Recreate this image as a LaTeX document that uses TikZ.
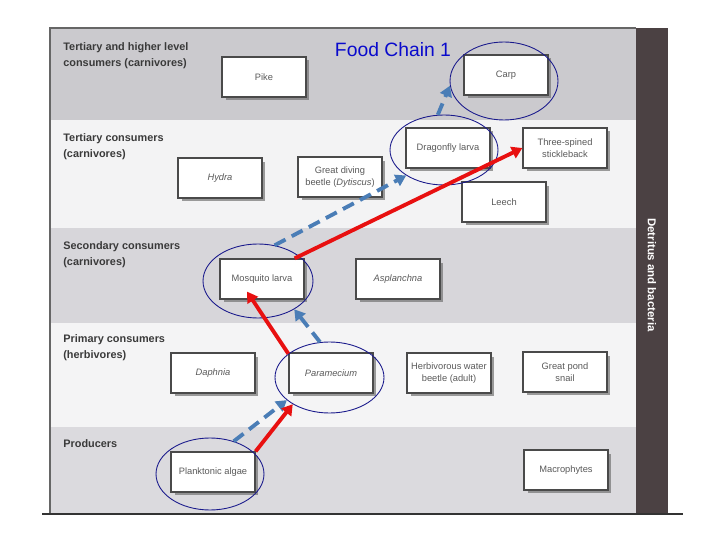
\documentclass[tikz,border=0pt]{standalone}
\usepackage{fontspec}
\setmainfont{Liberation Sans}
\usetikzlibrary{shapes.geometric,shadows,arrows.meta,calc}
\definecolor{bandA}{HTML}{CBCACE}
\definecolor{bandB}{HTML}{F3F3F4}
\definecolor{bandC}{HTML}{D7D6DA}
\definecolor{bandD}{HTML}{F4F4F5}
\definecolor{bandE}{HTML}{DBDADE}
\definecolor{darkband}{HTML}{4B4143}
\definecolor{boxline}{HTML}{4A4A4A}
\definecolor{boxtext}{HTML}{5A5A5A}
\definecolor{labtext}{HTML}{3A3A3A}
\definecolor{ringblue}{HTML}{1A1A8C}
\definecolor{arrred}{HTML}{E81010}
\definecolor{arrblue}{HTML}{4A7DB6}
\definecolor{titleblue}{HTML}{0A0ACC}
\begin{document}
\begin{tikzpicture}[x=0.02cm,y=-0.02cm,
  box/.style={draw=boxline, line width=0.7pt, fill=white, minimum width=1.68cm,
    minimum height=0.8cm, inner sep=1pt, align=center,
    font=\fontsize{5.3}{6.5}\selectfont, text=boxtext,
    drop shadow={shadow xshift=0.07cm, shadow yshift=-0.07cm, fill=black!55, opacity=0.7}},
  ring/.style={ellipse, draw=ringblue, line width=0.5pt, inner sep=0pt},
  redarrow/.style={draw=arrred, line width=2.2pt, -{Triangle[length=6pt,width=7pt]}},
  bluearrow/.style={draw=arrblue, line width=2.2pt, dash pattern=on 7pt off 4pt,
    -{Triangle[length=6pt,width=7pt]}},
  lab/.style={anchor=west, align=left, inner sep=0pt,
    font=\bfseries\fontsize{6.2}{9}\selectfont, text=labtext}]
\useasboundingbox (0,0) rectangle (720,540);
\fill[white] (0,0) rectangle (720,540);
% bands
\fill[bandA] (50,28) rectangle (636,120);
\fill[bandB] (50,120) rectangle (636,228);
\fill[bandC] (50,228) rectangle (636,323);
\fill[bandD] (50,323) rectangle (636,427);
\fill[bandE] (50,427) rectangle (636,513);
\fill[darkband] (636,28) rectangle (668,513);
\draw[black!60, line width=0.8pt] (50,513) -- (50,28) -- (636,28);
\draw[black!80, line width=1.6pt] (42,514) -- (683,514);
\node[rotate=-90, text=white, font=\bfseries\fontsize{6.5}{8}\selectfont] (detritus) at (652,275) {Detritus and bacteria};
% level labels
\node[lab] (l1) at (63,56) {Tertiary and higher level\\consumers (carnivores)};
\node[lab] (l2) at (63,147) {Tertiary consumers\\(carnivores)};
\node[lab] (l3) at (63,255) {Secondary consumers\\(carnivores)};
\node[lab] (l4) at (63,348) {Primary consumers\\(herbivores)};
\node[lab] (l5) at (63,444) {Producers};
% boxes
\node[box] (pike) at (264,77) {Pike};
\node[box] (carp) at (506,75) {Carp};
\node[box] (hydra) at (220,178) {\textit{Hydra}};
\node[box] (beetle) at (340,177) {Great diving\\beetle (\textit{Dytiscus})};
\node[box] (drag) at (448,148) {Dragonfly larva};
\node[box] (stick) at (565,148) {Three-spined\\stickleback};
\node[box] (leech) at (504,202) {Leech};
\node[box] (mosq) at (262,279) {Mosquito larva};
\node[box] (asp) at (398,279) {\textit{Asplanchna}};
\node[box] (daph) at (213,373) {\textit{Daphnia}};
\node[box] (param) at (331,373) {\textit{Paramecium}};
\node[box] (herb) at (449,373) {Herbivorous water\\beetle (adult)};
\node[box] (snail) at (565,372) {Great pond\\snail};
\node[box] (algae) at (213,472) {Planktonic algae};
\node[box] (macro) at (566,470) {Macrophytes};
% rings
\node[ring, minimum width=2.16cm, minimum height=1.56cm] (carpE) at (504,81) {};
\node[ring, minimum width=2.16cm, minimum height=1.40cm] (dragE) at (444,150) {};
\node[ring, minimum width=2.20cm, minimum height=1.48cm] (mosqE) at (258,281) {};
\node[ring, minimum width=2.18cm, minimum height=1.42cm] (paramE) at (329.5,377.5) {};
\node[ring, minimum width=2.16cm, minimum height=1.44cm] (algaeE) at (210,474) {};
% arrows
\draw[bluearrow] (algaeE.54) -- (paramE.208);
\draw[redarrow] (algae.north east) -- (paramE.216);
\draw[redarrow] (paramE.150) -- ($(mosq.south)+(-15,-8)$);
\draw[bluearrow] (paramE.105) -- (mosqE.-38);
\draw[bluearrow] (mosqE.65) -- (dragE.214);
\draw[redarrow] ($(mosq.north east)+(-10,0)$) -- (stick.west);
\draw[bluearrow] (dragE.100) -- (carpE.185);
% title
\node[text=titleblue, font=\fontsize{11}{13}\selectfont] (title) at (393,50) {Food Chain 1};
\end{tikzpicture}
\end{document}
